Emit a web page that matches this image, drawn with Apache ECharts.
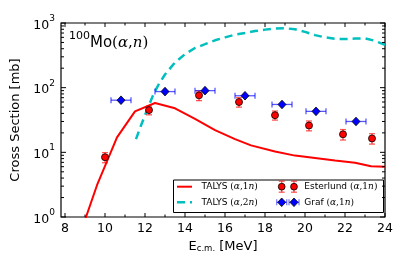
<!DOCTYPE html>
<html><head><meta charset="utf-8">
<script src="https://cdn.jsdelivr.net/npm/echarts@6/dist/echarts.min.js"></script>
<style>html,body{margin:0;padding:0;background:#fff}#c{width:407px;height:271px}</style>
</head><body><div id="c"></div>
<script>
// ---- data ----
const esterlundE   = [10.0, 12.2, 14.7, 16.7, 18.5, 20.2, 21.9, 23.35];
const esterlundXS  = [8.4, 45, 76, 60, 37.5, 26, 19, 16.4];
const esterlundErr = [1.5, 7, 13, 10, 6, 4.5, 3.5, 3];
const grafE    = [10.8, 13.0, 15.0, 17.0, 18.85, 20.55, 22.55];
const grafXS   = [64, 87, 90, 75, 55, 43, 30];
const grafEErr = [0.5, 0.5, 0.5, 0.5, 0.5, 0.5, 0.5];
const talys1nE  = [8.6, 9.0, 9.6, 10.6, 11.5, 12.5, 13.5, 14.5, 15.5, 16.5, 17.3, 18.5, 19.5, 20.5, 21.5, 22.5, 23.3, 24.0];
const talys1nXS = [0.35, 0.9, 3.1, 17, 43, 58, 48, 33, 22, 16, 12.8, 10.3, 8.9, 8.2, 7.5, 6.9, 6.1, 6.0];
const talys2nE  = [11.55, 11.8, 12.1, 12.4, 12.7, 13.0, 13.5, 14.0, 14.5, 15.0, 15.5, 16.0, 16.5, 17.0, 17.5, 18.0, 18.5, 19.0, 19.5, 20.0, 20.5, 21.0, 21.5, 22.0, 22.5, 23.0, 23.5, 24.0];
const talys2nXS = [16, 26, 45, 76, 115, 160, 245, 330, 410, 470, 540, 600, 660, 700, 750, 790, 820, 830, 800, 730, 650, 600, 570, 565, 575, 580, 530, 460];
const xTickLabels = [8, 10, 12, 14, 16, 18, 20, 22, 24];
const xMinorTicks = [9, 11, 13, 15, 17, 19, 21, 23];
const yTickLabels = [1, 10, 100, 1000];
const yMinorTicks = [2,3,4,5,6,7,8,9,20,30,40,50,60,70,80,90,200,300,400,500,600,700,800,900];

const FONT = 'DejaVu Sans';
const X_MIN = 7.8, X_MAX = 24, Y_MIN = 1, Y_MAX = 1000;

// tick specs: [x, y, axis(0=x,1=y), length]
const tickData = [];
xTickLabels.forEach(v => tickData.push([v, Y_MIN, 0, 4]));
xMinorTicks.forEach(v => tickData.push([v, Y_MIN, 0, 2.5]));
yTickLabels.forEach(v => tickData.push([X_MIN, v, 1, 5]));
yMinorTicks.forEach(v => tickData.push([X_MIN, v, 1, 3]));

function renderTicks(params, api) {
  const cs = params.coordSys;
  const p = api.coord([api.value(0), api.value(1)]);
  const kind = api.value(2), len = api.value(3);
  const st = {stroke: '#000', lineWidth: 1};
  if (kind === 0) {
    return {type: 'group', children: [
      {type: 'line', shape: {x1: p[0], y1: cs.y + cs.height, x2: p[0], y2: cs.y + cs.height - len}, style: st},
      {type: 'line', shape: {x1: p[0], y1: cs.y, x2: p[0], y2: cs.y + len}, style: st}
    ]};
  }
  return {type: 'group', children: [
    {type: 'line', shape: {x1: cs.x, y1: p[1], x2: cs.x + len, y2: p[1]}, style: st},
    {type: 'line', shape: {x1: cs.x + cs.width, y1: p[1], x2: cs.x + cs.width - len, y2: p[1]}, style: st}
  ]};
}

function renderYErr(params, api) {
  const x = api.value(0), y = api.value(1), e = api.value(2);
  const a = api.coord([x, y - e]), b = api.coord([x, y + e]);
  const c = 3, st = {stroke: 'rgba(255,0,0,0.65)', lineWidth: 1.3};
  return {type: 'group', children: [
    {type: 'line', shape: {x1: a[0], y1: a[1], x2: b[0], y2: b[1]}, style: st},
    {type: 'line', shape: {x1: a[0] - c, y1: a[1], x2: a[0] + c, y2: a[1]}, style: st},
    {type: 'line', shape: {x1: b[0] - c, y1: b[1], x2: b[0] + c, y2: b[1]}, style: st}
  ]};
}
function renderXErr(params, api) {
  const x = api.value(0), y = api.value(1), e = api.value(2);
  const a = api.coord([x - e, y]), b = api.coord([x + e, y]);
  const c = 3, st = {stroke: 'rgba(0,0,255,0.65)', lineWidth: 1.3};
  return {type: 'group', children: [
    {type: 'line', shape: {x1: a[0], y1: a[1], x2: b[0], y2: b[1]}, style: st},
    {type: 'line', shape: {x1: a[0], y1: a[1] - c, x2: a[0], y2: a[1] + c}, style: st},
    {type: 'line', shape: {x1: b[0], y1: b[1] - c, x2: b[0], y2: b[1] + c}, style: st}
  ]};
}

const mathRich = {
  t: {fontFamily: FONT, fontSize: 9, color: '#000'},
  p: {fontFamily: 'DejaVu Serif', fontSize: 9, color: '#000'},
  i: {fontFamily: 'DejaVu Serif', fontStyle: 'italic', fontSize: 9, color: '#000'}
};

// legend decoration
const LX1 = 281.7, LX2 = 294, R1 = 186.7, R2 = 202.3;
function diamond(cx, cy) {
  return {type: 'polygon', shape: {points: [[cx, cy - 4.3], [cx + 4, cy], [cx, cy + 4.3], [cx - 4, cy]]},
    style: {fill: '#0000ff', stroke: '#000', lineWidth: 0.8}};
}
function circ(cx, cy) {
  return {type: 'circle', shape: {cx: cx, cy: cy, r: 3.4}, style: {fill: '#ff0000', stroke: '#000', lineWidth: 0.8}};
}
function vbar(cx, cy) {
  const st = {stroke: 'rgba(255,0,0,0.65)', lineWidth: 1.3};
  return [
    {type: 'line', shape: {x1: cx, y1: cy - 5.5, x2: cx, y2: cy + 5.5}, style: st},
    {type: 'line', shape: {x1: cx - 3, y1: cy - 5.5, x2: cx + 3, y2: cy - 5.5}, style: st},
    {type: 'line', shape: {x1: cx - 3, y1: cy + 5.5, x2: cx + 3, y2: cy + 5.5}, style: st}
  ];
}
function hbar(cx, cy) {
  const st = {stroke: 'rgba(0,0,255,0.5)', lineWidth: 1.3};
  return [
    {type: 'line', shape: {x1: cx - 5, y1: cy, x2: cx + 5, y2: cy}, style: st},
    {type: 'line', shape: {x1: cx - 5, y1: cy - 3, x2: cx - 5, y2: cy + 3}, style: st},
    {type: 'line', shape: {x1: cx + 5, y1: cy - 3, x2: cx + 5, y2: cy + 3}, style: st}
  ];
}

const legendChildren = [
  {type: 'rect', shape: {x: 173.5, y: 180, width: 210, height: 32.5}, style: {fill: '#fff', stroke: '#000', lineWidth: 1}},
  {type: 'line', shape: {x1: 177, y1: R1, x2: 192, y2: R1}, style: {stroke: '#ff0000', lineWidth: 2}},
  {type: 'line', shape: {x1: 177, y1: R2, x2: 192, y2: R2}, style: {stroke: '#00bfbf', lineWidth: 2.5, lineDash: [8, 5]}},
  {type: 'text', x: 201.5, y: R1, style: {text: '{t|TALYS }{p|(}{i|α}{p|,1}{i|n}{p|)}', rich: mathRich, verticalAlign: 'middle'}},
  {type: 'text', x: 201.5, y: R2, style: {text: '{t|TALYS }{p|(}{i|α}{p|,2}{i|n}{p|)}', rich: mathRich, verticalAlign: 'middle'}},
  ...vbar(LX1, R1), ...vbar(LX2, R1), circ(LX1, R1), circ(LX2, R1),
  ...hbar(LX1, R2), ...hbar(LX2, R2), diamond(LX1, R2), diamond(LX2, R2),
  {type: 'text', x: 304.3, y: R1, style: {text: '{t|Esterlund }{p|(}{i|α}{p|,1}{i|n}{p|)}', rich: mathRich, verticalAlign: 'middle'}},
  {type: 'text', x: 304.3, y: R2, style: {text: '{t|Graf }{p|(}{i|α}{p|,1}{i|n}{p|)}', rich: mathRich, verticalAlign: 'middle'}}
];

const chart = echarts.init(document.getElementById('c'), null, {renderer: 'canvas'});
chart.setOption({
  animation: false,
  backgroundColor: '#fff',
  grid: {left: 61, top: 23, width: 324, height: 194, show: true, borderColor: '#000', borderWidth: 1.2, backgroundColor: 'transparent'},
  xAxis: {
    type: 'value', min: X_MIN, max: X_MAX,
    axisLine: {show: false}, axisTick: {show: false}, splitLine: {show: false},
    axisLabel: {customValues: xTickLabels, color: '#000', fontFamily: FONT, fontSize: 12.5, margin: 5, showMinLabel: true, showMaxLabel: true},
    name: '{e|E}{s|c.m.}{e| [MeV]}', nameLocation: 'middle', nameGap: 22,
    nameTextStyle: {rich: {e: {fontFamily: FONT, fontSize: 13, color: '#000', verticalAlign: 'top'}, s: {fontFamily: FONT, fontSize: 8.5, color: '#000', verticalAlign: 'bottom'}}}
  },
  yAxis: {
    type: 'log', logBase: 10, min: Y_MIN, max: Y_MAX,
    axisLine: {show: false}, axisTick: {show: false}, splitLine: {show: false}, minorTick: {show: false},
    axisLabel: {
      color: '#000', margin: 6,
      formatter: v => '{b|10}{s|' + Math.round(Math.log10(v)) + '}',
      rich: {b: {fontFamily: FONT, fontSize: 12.5, color: '#000', verticalAlign: 'bottom', lineHeight: 18}, s: {fontFamily: FONT, fontSize: 9, color: '#000', verticalAlign: 'top'}}
    },
    name: 'Cross Section [mb]', nameLocation: 'middle', nameGap: 35,
    nameTextStyle: {fontFamily: FONT, fontSize: 13, color: '#000'}
  },
  graphic: [
    {type: 'text', left: 69, top: 31, z: 100, style: {
      text: '{sup|100}{mo|Mo}{p|(}{i|α}{p|,}{i|n}{p|)}',
      rich: {
        sup: {fontFamily: FONT, fontSize: 11, color: '#000', verticalAlign: 'top'},
        mo: {fontFamily: FONT, fontSize: 15, color: '#000', verticalAlign: 'bottom', lineHeight: 20},
        p: {fontFamily: 'DejaVu Serif', fontSize: 15, color: '#000', verticalAlign: 'bottom'},
        i: {fontFamily: 'DejaVu Serif', fontStyle: 'italic', fontSize: 15, color: '#000', verticalAlign: 'bottom'}
      }}},
    {type: 'group', z: 100, children: legendChildren}
  ],
  series: [
    {type: 'line', name: 'TALYS (α,1n)', data: talys1nE.map((e, i) => [e, talys1nXS[i]]), showSymbol: false, symbol: 'none',
      lineStyle: {color: '#ff0000', width: 2}, z: 3, clip: true},
    {type: 'line', name: 'TALYS (α,2n)', data: talys2nE.map((e, i) => [e, talys2nXS[i]]), showSymbol: false, symbol: 'none',
      lineStyle: {color: '#00bfbf', width: 2.5, type: [8, 5]}, z: 3, clip: true},
    {type: 'custom', renderItem: renderYErr, data: esterlundE.map((e, i) => [e, esterlundXS[i], esterlundErr[i]]), encode: {x: 0, y: 1}, z: 4, clip: true},
    {type: 'custom', renderItem: renderXErr, data: grafE.map((e, i) => [e, grafXS[i], grafEErr[i]]), encode: {x: 0, y: 1}, z: 4, clip: true},
    {type: 'scatter', name: 'Esterlund (α,1n)', data: esterlundE.map((e, i) => [e, esterlundXS[i]]), symbol: 'circle', symbolSize: 7,
      itemStyle: {color: '#ff0000', borderColor: '#000', borderWidth: 0.8, opacity: 1}, z: 5},
    {type: 'scatter', name: 'Graf (α,1n)', data: grafE.map((e, i) => [e, grafXS[i]]), symbol: 'diamond', symbolSize: [8, 8.6],
      itemStyle: {color: '#0000ff', borderColor: '#000', borderWidth: 0.8, opacity: 1}, z: 5},
    {type: 'custom', renderItem: renderTicks, data: tickData, encode: {x: 0, y: 1}, z: 6, silent: true}
  ]
});
</script></body></html>
